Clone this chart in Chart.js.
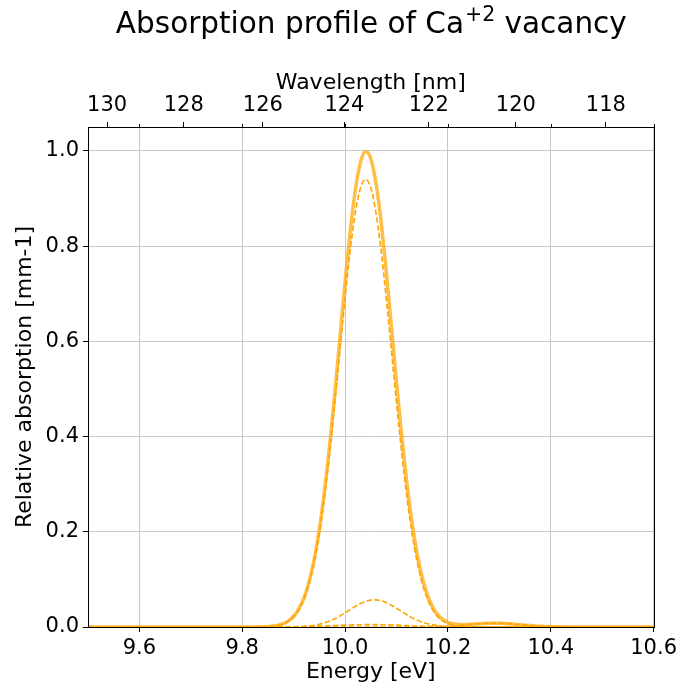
<!DOCTYPE html>
<html>
<head>
<meta charset="utf-8">
<script src="https://cdn.jsdelivr.net/npm/chart.js@4/dist/chart.umd.min.js"></script>
<style>
  html, body { margin: 0; padding: 0; background: #fff; }
  canvas { display: block; }
</style>
</head>
<body>
<canvas id="absChart" width="681" height="692"></canvas>
<script>
// photon energy [eV]
const energy = [9.50, 9.60, 9.70, 9.80,
    9.84, 9.85, 9.86, 9.87, 9.88, 9.89, 9.90, 9.91, 9.92, 9.93,
    9.94, 9.95, 9.96, 9.97, 9.98, 9.99, 10.00, 10.01, 10.02, 10.03,
    10.04, 10.05, 10.06, 10.07, 10.08, 10.09, 10.10, 10.11, 10.12, 10.13,
    10.14, 10.15, 10.16, 10.17, 10.18, 10.19, 10.20, 10.21, 10.22, 10.23,
    10.24, 10.25, 10.26, 10.27, 10.28, 10.29, 10.30, 10.31, 10.32, 10.33,
    10.34, 10.35, 10.36, 10.37, 10.38, 10.39, 10.40, 10.41, 10.42, 10.43,
    10.44, 10.50, 10.60];

// total absorption (solid)
const totalAbs = [0, 0, 0, 0,
    0.0004, 0.0010, 0.0020, 0.0039, 0.0073, 0.0130, 0.0226, 0.0380, 0.0612, 0.0953,
    0.1427, 0.2057, 0.2856, 0.3816, 0.4909, 0.6080, 0.7248, 0.8315, 0.9183, 0.9762,
    0.9988, 0.9835, 0.9323, 0.8506, 0.7470, 0.6313, 0.5138, 0.4025, 0.3035, 0.2203,
    0.1542, 0.1039, 0.0676, 0.0425, 0.0261, 0.0159, 0.0100, 0.0067, 0.0055, 0.0051,
    0.0055, 0.0061, 0.0067, 0.0074, 0.0078, 0.0080, 0.0078, 0.0074, 0.0067, 0.0058,
    0.0049, 0.0039, 0.0030, 0.0022, 0.0016, 0.0011, 0.0007, 0.0004, 0.0003, 0.0002,
    0.0001, 0, 0];

// individual transitions (dashed)
const mainPeak = [0, 0, 0, 0,
    0.0004, 0.0009, 0.0019, 0.0036, 0.0069, 0.0124, 0.0217, 0.0365, 0.0590, 0.0918,
    0.1375, 0.1981, 0.2747, 0.3665, 0.4705, 0.5813, 0.6911, 0.7907, 0.8704, 0.9221,
    0.9400, 0.9221, 0.8704, 0.7907, 0.6911, 0.5813, 0.4705, 0.3665, 0.2747, 0.1981,
    0.1375, 0.0918, 0.0590, 0.0365, 0.0217, 0.0124, 0.0069, 0.0036, 0.0019, 0.0009,
    0.0004, 0.0002, 0, 0, 0, 0, 0, 0, 0, 0,
    0, 0, 0, 0, 0, 0, 0, 0, 0, 0,
    0, 0, 0];
const sidePeak = [0, 0, 0, 0,
    0, 0, 0, 0.0001, 0.0001, 0.0002, 0.0004, 0.0008, 0.0013, 0.0023,
    0.0037, 0.0058, 0.0087, 0.0125, 0.0174, 0.0232, 0.0298, 0.0366, 0.0433, 0.0493,
    0.0538, 0.0564, 0.0569, 0.0551, 0.0513, 0.0458, 0.0394, 0.0325, 0.0258, 0.0196,
    0.0144, 0.0101, 0.0068, 0.0044, 0.0028, 0.0017, 0.0010, 0.0005, 0.0003, 0.0001,
    0.0001, 0, 0, 0, 0, 0, 0, 0, 0, 0,
    0, 0, 0, 0, 0, 0, 0, 0, 0, 0,
    0, 0, 0];
const weakPeak = [0, 0, 0, 0,
    0, 0.0001, 0.0001, 0.0002, 0.0003, 0.0004, 0.0005, 0.0007, 0.0009, 0.0012,
    0.0015, 0.0018, 0.0022, 0.0026, 0.0030, 0.0035, 0.0039, 0.0042, 0.0046, 0.0048,
    0.0050, 0.0050, 0.0050, 0.0048, 0.0046, 0.0042, 0.0039, 0.0035, 0.0030, 0.0026,
    0.0022, 0.0018, 0.0015, 0.0012, 0.0009, 0.0007, 0.0005, 0.0004, 0.0003, 0.0002,
    0.0001, 0.0001, 0, 0, 0, 0, 0, 0, 0, 0,
    0, 0, 0, 0, 0, 0, 0, 0, 0, 0,
    0, 0, 0];
const highPeak = [0, 0, 0, 0,
    0, 0, 0, 0, 0, 0, 0, 0, 0, 0,
    0, 0, 0, 0, 0, 0, 0, 0, 0, 0,
    0, 0, 0, 0, 0, 0, 0, 0, 0, 0,
    0.0001, 0.0002, 0.0003, 0.0004, 0.0007, 0.0011, 0.0016, 0.0022, 0.0030, 0.0039,
    0.0049, 0.0058, 0.0067, 0.0074, 0.0078, 0.0080, 0.0078, 0.0074, 0.0067, 0.0058,
    0.0049, 0.0039, 0.0030, 0.0022, 0.0016, 0.0011, 0.0007, 0.0004, 0.0003, 0.0002,
    0.0001, 0, 0];

// axis ticks
const energyTicks = [9.6, 9.8, 10.0, 10.2, 10.4, 10.6];
const absTicks = [0, 0.2, 0.4, 0.6, 0.8, 1.0];
const wavelengthTicks = [130, 128, 126, 124, 122, 120, 118];
const HC = 1239.84; // eV*nm

const ORANGE = '#ffa500';

function pts(ys) {
    return energy.map((e, i) => ({ x: e, y: ys[i] }));
}

function dashed(ys) {
    return {
        data: pts(ys),
        borderColor: ORANGE,
        borderWidth: 1.6,
        borderDash: [5.5, 2.4],
        pointRadius: 0,
        fill: false,
        order: 1
    };
}

Chart.defaults.font.family = "'DejaVu Sans', sans-serif";
Chart.defaults.color = '#000';

const bgAndFrame = {
    id: 'bgAndFrame',
    beforeDraw(chart) {
        const ctx = chart.ctx;
        ctx.save();
        ctx.fillStyle = '#fff';
        ctx.fillRect(0, 0, chart.width, chart.height);
        ctx.restore();
    },
    afterDatasetsDraw(chart) {
        const { ctx, chartArea: a } = chart;
        ctx.save();
        // small ticks on the top spine at the energy tick positions
        ctx.strokeStyle = '#000';
        ctx.lineWidth = 1;
        energyTicks.forEach(v => {
            const px = Math.round(chart.scales.x.getPixelForValue(v)) + 0.5;
            ctx.beginPath();
            ctx.moveTo(px, a.top);
            ctx.lineTo(px, a.top - 3);
            ctx.stroke();
        });
        ctx.strokeRect(Math.round(a.left) + 0.5, Math.round(a.top) + 0.5,
            Math.round(a.right - a.left), Math.round(a.bottom - a.top));
        ctx.restore();
    },
    afterDraw(chart) {
        // title with superscript charge
        const ctx = chart.ctx;
        const a = chart.chartArea;
        const fam = "'DejaVu Sans', sans-serif";
        const big = '29.5px ' + fam, small = '20.5px ' + fam;
        const p1 = 'Absorption profile of Ca', sup = '+2', p2 = ' vacancy';
        ctx.save();
        ctx.fillStyle = '#000';
        ctx.textBaseline = 'alphabetic';
        ctx.font = big;
        const w1 = ctx.measureText(p1).width, w3 = ctx.measureText(p2).width;
        ctx.font = small;
        const w2 = ctx.measureText(sup).width;
        let x = (a.left + a.right) / 2 - (w1 + w2 + w3) / 2;
        const base = 33;
        ctx.font = big;
        ctx.fillText(p1, x, base);
        ctx.font = small;
        ctx.fillText(sup, x + w1 + 1, base - 12);
        ctx.font = big;
        ctx.fillText(p2, x + w1 + w2 + 1, base);
        ctx.restore();
    }
};

new Chart(document.getElementById('absChart'), {
    type: 'line',
    data: {
        datasets: [
            {
                data: pts(totalAbs),
                borderColor: 'rgba(255,165,0,0.72)',
                borderWidth: 3.5,
                pointRadius: 0,
                fill: false,
                order: 0
            },
            dashed(mainPeak),
            dashed(sidePeak),
            dashed(weakPeak),
            dashed(highPeak)
        ]
    },
    options: {
        responsive: false,
        animation: false,
        devicePixelRatio: 1,
        layout: { padding: { top: 55, right: 27, bottom: 0, left: 0 } },
        plugins: { legend: { display: false }, tooltip: { enabled: false } },
        elements: { line: { cubicInterpolationMode: 'monotone' } },
        scales: {
            x: {
                type: 'linear',
                position: 'bottom',
                min: 9.5,
                max: 10.6,
                afterBuildTicks: s => { s.ticks = energyTicks.map(v => ({ value: v })); },
                afterFit: s => { s.height = 65; },
                ticks: {
                    autoSkip: false, maxRotation: 0, padding: 4,
                    font: { size: 21 },
                    callback: v => v.toFixed(1)
                },
                grid: { color: '#c8c8c8', lineWidth: 1, tickColor: '#000', tickLength: 5 },
                border: { display: false },
                title: { display: true, text: 'Energy [eV]', font: { size: 22 }, padding: { top: 0, bottom: 7 } }
            },
            x2: {
                type: 'linear',
                position: 'top',
                min: 9.5,
                max: 10.6,
                afterBuildTicks: s => { s.ticks = wavelengthTicks.map(l => ({ value: HC / l })); },
                afterFit: s => { s.height = 72; },
                ticks: {
                    autoSkip: false, maxRotation: 0, padding: 4,
                    font: { size: 21 },
                    callback: (v, i) => String(wavelengthTicks[i])
                },
                grid: { drawOnChartArea: false, tickColor: '#000', tickLength: 5 },
                border: { display: false },
                title: { display: true, text: 'Wavelength [nm]', font: { size: 22 }, padding: { top: 15, bottom: 0 } }
            },
            y: {
                type: 'linear',
                min: 0,
                max: 1.05,
                afterBuildTicks: s => { s.ticks = absTicks.map(v => ({ value: v })); },
                afterFit: s => { s.width = 88; },
                ticks: {
                    padding: 4,
                    font: { size: 21 },
                    callback: v => v.toFixed(1)
                },
                grid: { color: '#c8c8c8', lineWidth: 1, tickColor: '#000', tickLength: 5 },
                border: { display: false },
                title: { display: true, text: 'Relative absorption [mm-1]', font: { size: 22 }, padding: { top: 12, bottom: 0 } }
            }
        }
    },
    plugins: [bgAndFrame]
});
</script>
</body>
</html>
